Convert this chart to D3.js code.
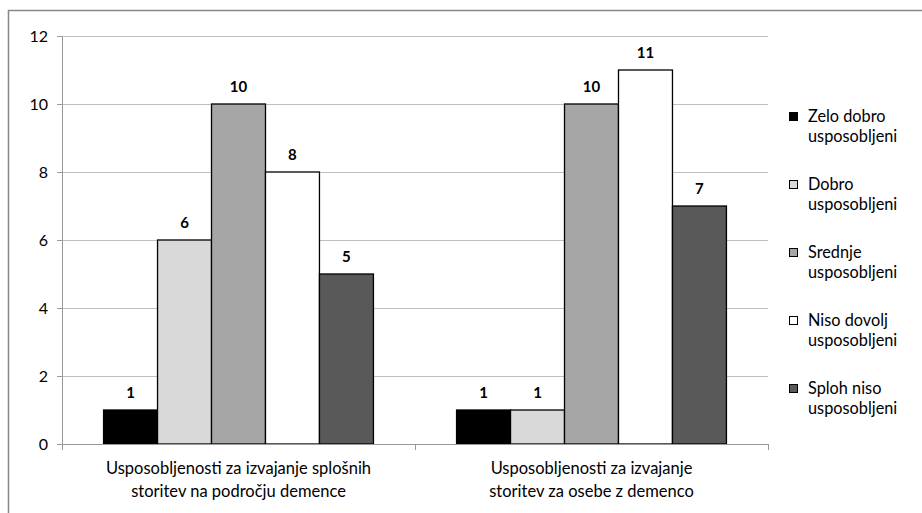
<!DOCTYPE html>
<html>
<head>
<meta charset="utf-8">
<script src="https://cdn.jsdelivr.net/npm/d3@7"></script>
<style>
  body { margin: 0; background: #fff; }
  svg { font-family: Lato, "Open Sans", sans-serif; }
</style>
</head>
<body>
<script>
var categories = [
  ["Usposobljenosti za izvajanje splošnih", "storitev na področju demence"],
  ["Usposobljenosti za izvajanje", "storitev za osebe z demenco"]
];
var seriesNames = [
  ["Zelo dobro", "usposobljeni"],
  ["Dobro", "usposobljeni"],
  ["Srednje", "usposobljeni"],
  ["Niso dovolj", "usposobljeni"],
  ["Sploh niso", "usposobljeni"]
];
var seriesColors = ["#000000", "#d9d9d9", "#a6a6a6", "#ffffff", "#595959"];
// values per series, one per category
var values = [
  [1, 1],
  [6, 1],
  [10, 10],
  [8, 11],
  [5, 7]
];
var yTicks = [0, 2, 4, 6, 8, 10, 12];

var width = 922, height = 513;
var margin = {top: 36, right: 154, bottom: 69, left: 62};
var w = width - margin.left - margin.right,
    h = height - margin.top - margin.bottom;

var svg = d3.select("body").append("svg")
    .attr("width", width)
    .attr("height", height);

// outer chart border
svg.append("rect")
    .attr("x", 8.5).attr("y", 10.5)
    .attr("width", 930).attr("height", 520)
    .attr("fill", "none")
    .attr("stroke", "#888")
    .attr("stroke-width", 1.5);

var g = svg.append("g")
    .attr("transform", "translate(" + margin.left + "," + margin.top + ")");

var x0 = d3.scaleBand()
    .domain(d3.range(categories.length))
    .range([0, w]);

var x1 = d3.scaleBand()
    .domain(d3.range(seriesNames.length))
    .range([0, x0.bandwidth()])
    .paddingOuter(0.77);

var y = d3.scaleLinear()
    .domain([0, 12])
    .range([h, 0]);

// gridlines
g.append("g")
    .selectAll("line")
    .data(yTicks.slice(1))
    .enter().append("line")
    .attr("x1", 0).attr("x2", w)
    .attr("y1", function(d) { return Math.round(y(d)) + 0.5; })
    .attr("y2", function(d) { return Math.round(y(d)) + 0.5; })
    .attr("stroke", "#bfbfbf")
    .attr("stroke-width", 1);

// y axis
var yAxis = g.append("g")
    .call(d3.axisLeft(y).tickValues(yTicks).tickSize(5).tickPadding(9).tickSizeOuter(0));
yAxis.select(".domain").attr("stroke", "#999");
yAxis.selectAll(".tick line").attr("stroke", "#999");
yAxis.selectAll("text")
    .attr("font-size", "16px")
    .attr("fill", "#000")
    .attr("font-family", "Lato, sans-serif");

// bars
var groups = g.selectAll(".cat")
    .data(categories)
    .enter().append("g")
    .attr("class", "cat")
    .attr("transform", function(d, i) { return "translate(" + x0(i) + ",0)"; });

groups.each(function(c, ci) {
  var grp = d3.select(this);
  seriesNames.forEach(function(s, si) {
    var v = values[si][ci];
    grp.append("rect")
        .attr("x", x1(si))
        .attr("y", y(v))
        .attr("width", x1.bandwidth())
        .attr("height", h - y(v))
        .attr("fill", seriesColors[si])
        .attr("stroke", "#000")
        .attr("stroke-width", 1.3);
    grp.append("text")
        .attr("x", x1(si) + x1.bandwidth() / 2)
        .attr("y", y(v) - 12)
        .attr("text-anchor", "middle")
        .attr("font-size", "15px")
        .attr("font-weight", "bold")
        .text(v);
  });
});

// x axis
var xAxis = g.append("g")
    .attr("transform", "translate(0," + h + ")");
xAxis.append("line")
    .attr("x1", 0).attr("x2", w)
    .attr("y1", 0.5).attr("y2", 0.5)
    .attr("stroke", "#999");
xAxis.selectAll(".tk")
    .data(d3.range(categories.length + 1))
    .enter().append("line")
    .attr("x1", function(d) { return Math.round(d * x0.bandwidth()) + 0.5; })
    .attr("x2", function(d) { return Math.round(d * x0.bandwidth()) + 0.5; })
    .attr("y1", 0).attr("y2", 6)
    .attr("stroke", "#999");
xAxis.selectAll(".lbl")
    .data(categories)
    .enter().append("text")
    .attr("text-anchor", "middle")
    .attr("font-size", "16.5px")
    .attr("transform", function(d, i) { return "translate(" + (x0(i) + x0.bandwidth() / 2) + ",0)"; })
    .each(function(d) {
      var t = d3.select(this);
      d.forEach(function(line, li) {
        t.append("tspan").attr("x", 0).attr("y", 30 + li * 23).text(line);
      });
    });

// legend
var legend = svg.append("g")
    .attr("transform", "translate(789,112)");
var items = legend.selectAll(".item")
    .data(seriesNames)
    .enter().append("g")
    .attr("transform", function(d, i) { return "translate(0," + (i * 68) + ")"; });
items.append("rect")
    .attr("x", 0.5).attr("y", 0.5)
    .attr("width", 8).attr("height", 8)
    .attr("fill", function(d, i) { return seriesColors[i]; })
    .attr("stroke", "#000");
items.append("text")
    .attr("font-size", "16.3px")
    .each(function(d) {
      var t = d3.select(this);
      d.forEach(function(line, li) {
        t.append("tspan").attr("x", 19).attr("y", 10 + li * 20).text(line);
      });
    });
</script>
</body>
</html>
